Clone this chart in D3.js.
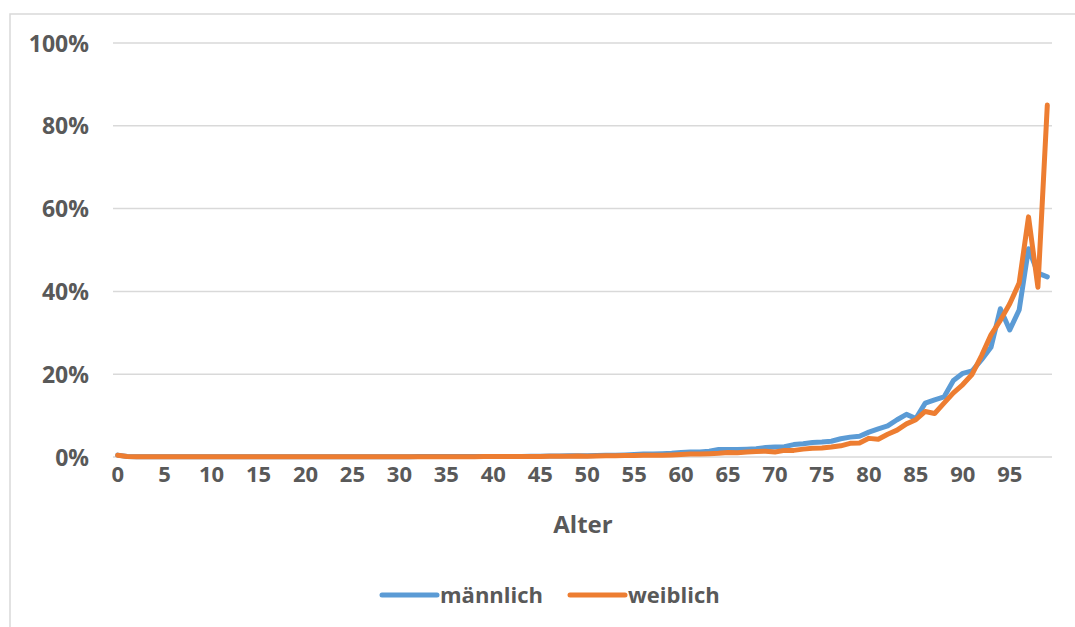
<!DOCTYPE html>
<html lang="de">
<head>
<meta charset="UTF-8">
<title>Alter</title>
<script src="https://d3js.org/d3.v7.min.js"></script>
<style>
  body { margin: 0; background: #fff; }
  text { font-family: "Open Sans", "Noto Sans", sans-serif; font-weight: 700; fill: #595959; }
  .grid line { stroke: #d9d9d9; stroke-width: 1.5px; }
</style>
</head>
<body>
<svg width="1075" height="627"></svg>
<script>
// Alter 0..99
const ages = d3.range(0, 100);
const xTicks = d3.range(0, 100, 5);
const yTicks = [0, 0.2, 0.4, 0.6, 0.8, 1.0];

// Anteile in Prozent
const maleVals = [
  0.45, 0.1, 0.05, 0.05, 0.05, 0.05, 0.05, 0.05, 0.05, 0.05,
  0.05, 0.05, 0.05, 0.05, 0.05, 0.05, 0.05, 0.05, 0.05, 0.05,
  0.05, 0.05, 0.05, 0.05, 0.05, 0.05, 0.05, 0.05, 0.05, 0.05,
  0.05, 0.05, 0.1, 0.1, 0.1, 0.1, 0.1, 0.1, 0.1, 0.1,
  0.15, 0.15, 0.15, 0.15, 0.2, 0.2, 0.25, 0.25, 0.3, 0.3,
  0.3, 0.35, 0.4, 0.45, 0.5, 0.6, 0.7, 0.7, 0.8, 0.9,
  1.1, 1.2, 1.2, 1.4, 1.8, 1.8, 1.8, 1.9, 2.0, 2.3,
  2.4, 2.5, 3.0, 3.2, 3.5, 3.6, 3.8, 4.4, 4.8, 5.0,
  6.0, 6.8, 7.5, 9.0, 10.3, 9.3, 13.0, 13.8, 14.5, 18.5,
  20.2, 20.8, 23.5, 26.5, 35.8, 30.7, 35.5, 50.3, 44.4, 43.5
];
const femaleVals = [
  0.4, 0.1, 0.05, 0.05, 0.05, 0.05, 0.05, 0.05, 0.05, 0.05,
  0.05, 0.05, 0.05, 0.05, 0.05, 0.05, 0.05, 0.05, 0.05, 0.05,
  0.05, 0.05, 0.05, 0.05, 0.05, 0.05, 0.05, 0.05, 0.05, 0.05,
  0.05, 0.05, 0.05, 0.05, 0.05, 0.05, 0.05, 0.05, 0.05, 0.1,
  0.1, 0.1, 0.15, 0.1, 0.1, 0.15, 0.2, 0.2, 0.2, 0.25,
  0.2, 0.25, 0.3, 0.3, 0.35, 0.35, 0.4, 0.45, 0.45, 0.5,
  0.6, 0.7, 0.7, 0.8, 0.9, 1.1, 1.0, 1.2, 1.3, 1.4,
  1.2, 1.6, 1.6, 1.9, 2.1, 2.2, 2.4, 2.7, 3.3, 3.4,
  4.5, 4.3, 5.5, 6.5, 8.0, 9.0, 11.0, 10.5, 13.0, 15.5,
  17.5, 20.0, 24.5, 29.5, 33.0, 37.0, 42.0, 58.0, 41.0, 85.0
];

const seriesNames = ["männlich", "weiblich"];
const colors = ["#5b9bd5", "#ed7d31"];

const svg = d3.select("svg");

// Rahmen
svg.append("rect")
  .attr("x", 10).attr("y", 14)
  .attr("width", 1100).attr("height", 700)
  .attr("fill", "none").attr("stroke", "#d9d9d9").attr("stroke-width", 1.5);

const plotLeft = 113, plotRight = 1052, plotTop = 43, plotBottom = 457;

const x = d3.scaleBand().domain(ages).range([plotLeft, plotRight]);
const y = d3.scaleLinear().domain([0, 1]).range([plotBottom, plotTop]);
const xc = a => x(a) + x.bandwidth() / 2;

// Gitterlinien
svg.append("g").attr("class", "grid")
  .selectAll("line").data(yTicks).join("line")
  .attr("x1", plotLeft).attr("x2", plotRight)
  .attr("y1", d => y(d)).attr("y2", d => y(d));

// y-Achse
const yAxis = svg.append("g")
  .attr("transform", `translate(${plotLeft - 24},0)`)
  .call(d3.axisLeft(y).tickValues(yTicks).tickFormat(d3.format(".0%")).tickSize(0));
yAxis.select(".domain").remove();
yAxis.selectAll("text").attr("font-size", 23).attr("x", 0).attr("dy", "0.35em");

// x-Achse
const xAxis = svg.append("g")
  .attr("transform", `translate(0,${plotBottom})`)
  .call(d3.axisBottom(x).tickValues(xTicks).tickSize(0));
xAxis.select(".domain").remove();
xAxis.selectAll("text").attr("font-size", 22).attr("y", 9).attr("dy", "0.71em");

svg.append("text")
  .attr("x", 583).attr("y", 533)
  .attr("text-anchor", "middle").attr("font-size", 24)
  .text("Alter");

// Linien
const line = d3.line().x((d, i) => xc(ages[i])).y(d => y(d / 100));
[maleVals, femaleVals].forEach((vals, k) => {
  svg.append("path")
    .datum(vals)
    .attr("d", line)
    .attr("fill", "none")
    .attr("stroke", colors[k])
    .attr("stroke-width", 5)
    .attr("stroke-linejoin", "round")
    .attr("stroke-linecap", "round");
});

// Legende
const legendX = [382, 570];
seriesNames.forEach((name, k) => {
  const g = svg.append("g").attr("transform", `translate(${legendX[k]},595)`);
  g.append("line").attr("x1", 0).attr("x2", 55)
    .attr("stroke", colors[k]).attr("stroke-width", 5).attr("stroke-linecap", "round");
  g.append("text").attr("x", 58).attr("dy", "0.35em").attr("font-size", 22).text(name);
});
</script>
</body>
</html>
